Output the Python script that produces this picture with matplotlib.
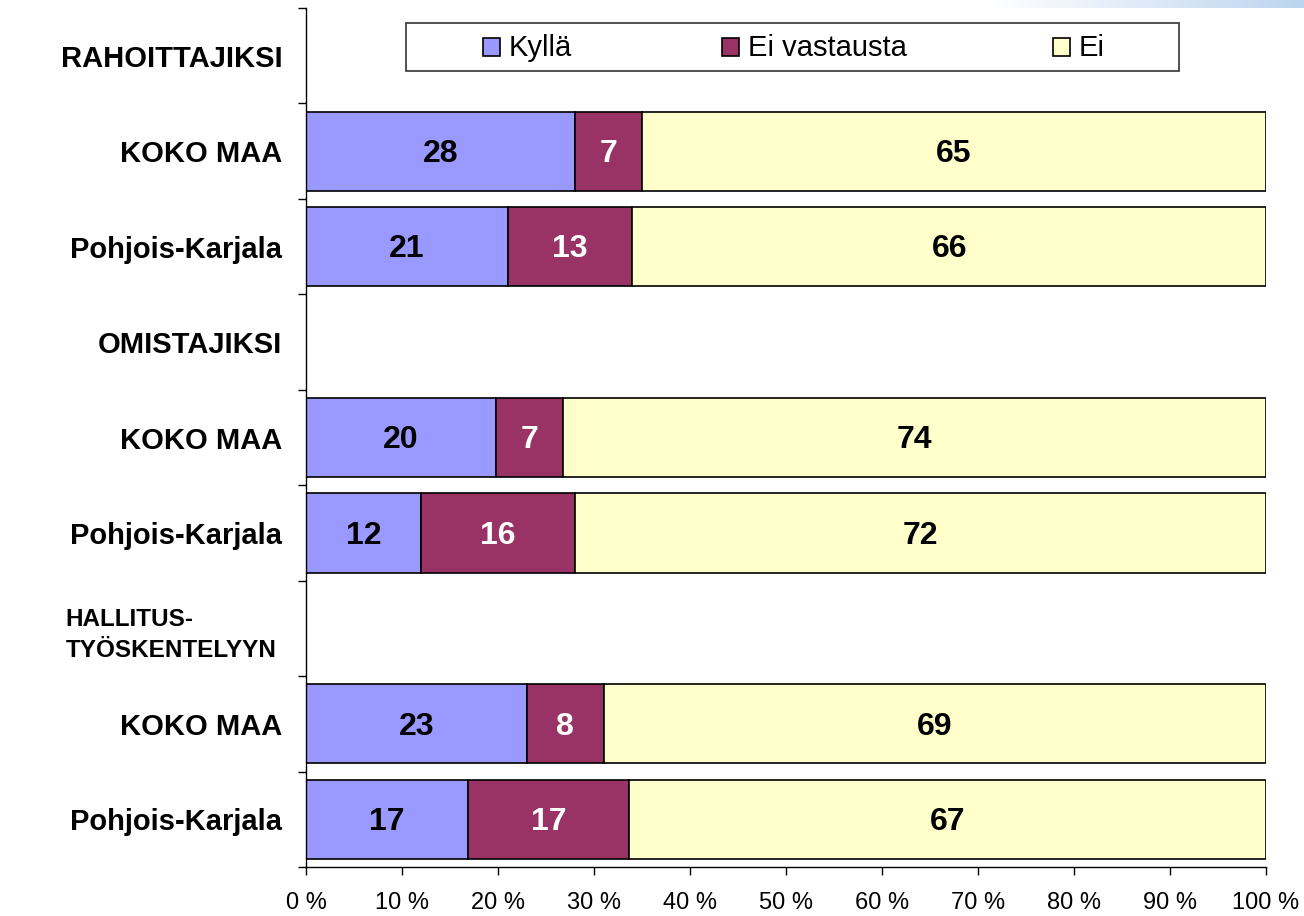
import matplotlib
matplotlib.use("Agg")
import matplotlib.pyplot as plt
import numpy as np
from matplotlib.patches import Rectangle
from matplotlib.colors import LinearSegmentedColormap
from matplotlib import font_manager

plt.rcParams['font.family'] = ['Liberation Sans', 'DejaVu Sans']

row_labels = ["RAHOITTAJIKSI", "KOKO MAA", "Pohjois-Karjala", "OMISTAJIKSI",
              "KOKO MAA", "Pohjois-Karjala", "HALLITUS-\nTYÖSKENTELYYN",
              "KOKO MAA", "Pohjois-Karjala"]
bar_rows = [1, 2, 4, 5, 7, 8]
kylla = [28, 21, 20, 12, 23, 17]
ei_vastausta = [7, 13, 7, 16, 8, 17]
ei = [65, 66, 74, 72, 69, 67]
series_names = ["Kyllä", "Ei vastausta", "Ei"]
colors = ["#9999FF", "#993366", "#FFFFCC"]
text_colors = ["black", "white", "black"]
xticks = list(range(0, 101, 10))

W, H = 1304, 916
fig = plt.figure(figsize=(W/100, H/100), dpi=100)

def fx(px):
    return px / W

def fy(py):
    return 1 - py / H

# decorative gradient strip at top right
gax = fig.add_axes([fx(990), fy(8), fx(W-990), 8/H])
grad = np.linspace(0, 1, 256).reshape(1, -1)
cmap = LinearSegmentedColormap.from_list("g", ["#ffffff", "#bcd4ef"])
gax.imshow(grad, aspect="auto", cmap=cmap, extent=[0, 1, 0, 1])
gax.axis("off")

ax = fig.add_axes([fx(306), fy(867), fx(960), (867-8)/H])

data = np.array([kylla, ei_vastausta, ei], dtype=float)
totals = data.sum(axis=0)
pct = data / totals * 100
left = np.zeros(len(bar_rows))
for i in range(3):
    ax.barh(bar_rows, pct[i], left=left, height=0.83, color=colors[i],
            edgecolor="black", linewidth=1.2, label=series_names[i], zorder=2)
    for r, l, w, v in zip(bar_rows, left, pct[i], data[i]):
        ax.text(l + w/2, r + 0.03, f"{int(v)}", ha="center", va="center",
                fontsize=23, fontweight="bold", color=text_colors[i], zorder=3)
    left += pct[i]

ax.set_xlim(0, 100)
ax.set_ylim(8.5, -0.5)
ax.set_xticks(xticks)
ax.set_xticklabels([f"{t} %" for t in xticks], fontsize=17)
ax.tick_params(axis="x", direction="out", length=6, width=1, pad=12)

narrow_ok = any("Liberation Sans Narrow" == f.name for f in font_manager.fontManager.ttflist)

ax.set_yticks(range(9))
ax.set_yticklabels(row_labels, fontsize=21, fontweight="bold", multialignment="left")
for lbl in ax.get_yticklabels():
    if "\n" in lbl.get_text():
        if narrow_ok:
            lbl.set_family(["Liberation Sans Narrow", "Liberation Sans"])
            lbl.set_fontsize(20.5)
        else:
            lbl.set_fontsize(17.5)
        lbl.set_linespacing(1.45)
        lbl.set_x(-0.006)
ax.tick_params(axis="y", which="major", length=0, pad=17)
ax.set_yticks(np.arange(-0.5, 9, 1), minor=True)
ax.tick_params(axis="y", which="minor", direction="out", length=6, width=1)

for s in ["top", "right"]:
    ax.spines[s].set_visible(False)
for s in ["left", "bottom"]:
    ax.spines[s].set_linewidth(1)

# legend drawn as a box with handles, in figure pixel positions
fig.patches.append(Rectangle((fx(406), fy(71)), fx(1179-406), (71-23)/H,
                             transform=fig.transFigure, facecolor="white",
                             edgecolor="#333333", linewidth=1.2, zorder=5))
handle_x = [483, 722, 1053]
hs = 17
ymid = 47
for name, c, hx in zip(series_names, colors, handle_x):
    fig.patches.append(Rectangle((fx(hx), fy(ymid + hs/2)), fx(hs), hs/H,
                                 transform=fig.transFigure, facecolor=c,
                                 edgecolor="black", linewidth=1.2, zorder=6))
    fig.text(fx(hx + hs + 9), fy(ymid + 1), name, fontsize=21, ha="left",
             va="center", zorder=7)

fig.savefig("out.png", dpi=100, facecolor="white")
